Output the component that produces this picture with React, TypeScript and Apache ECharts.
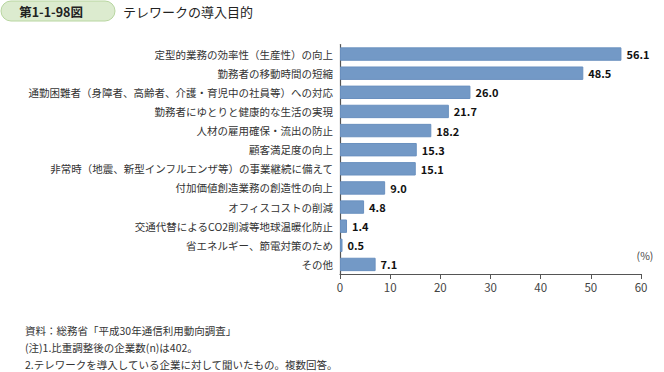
import React, { useEffect, useRef } from "react";
import * as echarts from "echarts";

const categories = [
  "定型的業務の効率性（生産性）の向上",
  "勤務者の移動時間の短縮",
  "通勤困難者（身障者、高齢者、介護・育児中の社員等）への対応",
  "勤務者にゆとりと健康的な生活の実現",
  "人材の雇用確保・流出の防止",
  "顧客満足度の向上",
  "非常時（地震、新型インフルエンザ等）の事業継続に備えて",
  "付加価値創造業務の創造性の向上",
  "オフィスコストの削減",
  "交通代替によるCO2削減等地球温暖化防止",
  "省エネルギー、節電対策のため",
  "その他",
];
const values = [56.1, 48.5, 26.0, 21.7, 18.2, 15.3, 15.1, 9.0, 4.8, 1.4, 0.5, 7.1];
const xTicks = [0, 10, 20, 30, 40, 50, 60];

const FONT = '"Noto Sans CJK JP", "Noto Sans", sans-serif';

export default function App() {
  const ref = useRef<HTMLDivElement>(null);
  useEffect(() => {
    if (!ref.current) return;
    const chart = echarts.init(ref.current, undefined, { renderer: "svg" });
    chart.setOption({
      animation: false,
      backgroundColor: "#ffffff",
      textStyle: { fontFamily: FONT },
      grid: { left: 340, right: 23, top: 44.5, height: 229.5, containLabel: false },
      xAxis: {
        type: "value",
        min: xTicks[0],
        max: xTicks[xTicks.length - 1],
        interval: 10,
        axisLine: { show: true, lineStyle: { color: "#555", width: 1.2 } },
        axisTick: { show: true, length: 5, lineStyle: { color: "#555" } },
        splitLine: { show: false },
        axisLabel: { color: "#444", fontSize: 11.5, margin: 7, fontFamily: FONT },
      },
      yAxis: {
        type: "category",
        inverse: true,
        data: categories,
        axisLine: { show: true, lineStyle: { color: "#555", width: 1.2 } },
        axisTick: { show: false },
        axisLabel: { color: "#333", fontSize: 10.5, margin: 7, fontFamily: FONT },
      },
      series: [
        {
          type: "bar",
          data: values,
          barCategoryGap: "30%",
          itemStyle: { color: "#7399c6", borderColor: "#6a90bf", borderWidth: 1 },
          label: {
            show: true,
            position: "right",
            distance: 5,
            formatter: (p: any) => Number(p.value).toFixed(1),
            color: "#111",
            fontWeight: "bold",
            fontSize: 11,
            fontFamily: FONT,
          },
        },
      ],
      graphic: [
        {
          type: "rect",
          shape: { x: 1, y: 1, width: 114, height: 20, r: 10 },
          style: { fill: "#dcebcf", stroke: "#b8d6a0", lineWidth: 1 },
        },
        {
          type: "text",
          x: 51,
          y: 11,
          style: {
            text: "第1-1-98図",
            fontSize: 12.5,
            fontWeight: "bold",
            fill: "#222",
            fontFamily: FONT,
            align: "center",
            verticalAlign: "middle",
          },
        },
        {
          type: "text",
          x: 123,
          y: 11,
          style: {
            text: "テレワークの導入目的",
            fontSize: 13,
            fill: "#222",
            fontFamily: FONT,
            verticalAlign: "middle",
          },
        },
        {
          type: "text",
          x: 645,
          y: 255,
          style: {
            text: "(%)",
            fontSize: 10.5,
            fill: "#444",
            fontFamily: FONT,
            align: "center",
            verticalAlign: "middle",
          },
        },
        {
          type: "text",
          x: 25,
          y: 330,
          style: {
            text: "資料：総務省「平成30年通信利用動向調査」",
            fontSize: 10.5,
            fill: "#333",
            fontFamily: FONT,
            verticalAlign: "middle",
          },
        },
        {
          type: "text",
          x: 25,
          y: 347,
          style: {
            text: "(注)1.比重調整後の企業数(n)は402。",
            fontSize: 10.5,
            fill: "#333",
            fontFamily: FONT,
            verticalAlign: "middle",
          },
        },
        {
          type: "text",
          x: 25,
          y: 364,
          style: {
            text: "2.テレワークを導入している企業に対して聞いたもの。複数回答。",
            fontSize: 10.5,
            fill: "#333",
            fontFamily: FONT,
            verticalAlign: "middle",
          },
        },
      ],
    });
    return () => chart.dispose();
  }, []);
  return <div ref={ref} style={{ width: 664, height: 372, position: "fixed", left: 0, top: 0 }} />;
}
